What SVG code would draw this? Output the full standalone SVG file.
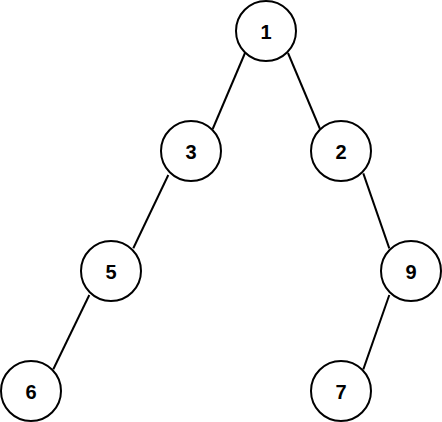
<svg xmlns="http://www.w3.org/2000/svg" width="442" height="422" viewBox="0 0 442 422">
<style>
.n circle{fill:#fff;stroke:#000;stroke-width:2}
.n text{font-family:"Liberation Sans",Arial,sans-serif;font-weight:bold;font-size:20px;text-anchor:middle;fill:#000}
#edges line{stroke:#000;stroke-width:2}
</style>
<rect width="442" height="422" fill="#fff"/>
<g id="edges">
<line x1="245" y1="53" x2="212.7" y2="129"/>
<line x1="288" y1="53" x2="320" y2="129"/>
<line x1="168.3" y1="175" x2="133.3" y2="248.3"/>
<line x1="363.3" y1="173.3" x2="389.3" y2="248.3"/>
<line x1="89.3" y1="295" x2="53.3" y2="369.3"/>
<line x1="389.3" y1="295" x2="363.3" y2="369.3"/>
</g>
<g id="node1" class="n"><circle cx="266" cy="31" r="30"/><text x="266" y="39">1</text></g>
<g id="node3" class="n"><circle cx="191" cy="151" r="30"/><text x="191" y="159">3</text></g>
<g id="node2" class="n"><circle cx="341" cy="151" r="30"/><text x="341" y="159">2</text></g>
<g id="node5" class="n"><circle cx="111" cy="271" r="30"/><text x="111" y="279">5</text></g>
<g id="node9" class="n"><circle cx="411" cy="271" r="30"/><text x="411" y="279">9</text></g>
<g id="node6" class="n"><circle cx="31" cy="391" r="30"/><text x="31" y="399">6</text></g>
<g id="node7" class="n"><circle cx="341" cy="391" r="30"/><text x="341" y="399">7</text></g>
</svg>
